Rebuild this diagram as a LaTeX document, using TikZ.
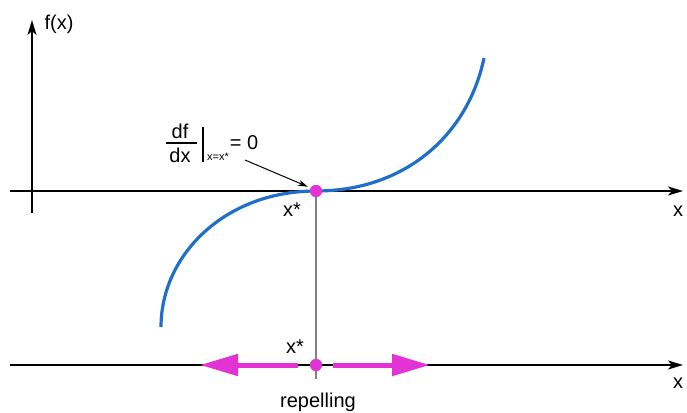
\documentclass[tikz,border=0pt]{standalone}
\usepackage{fontspec}
\setmainfont{Liberation Sans}
\usetikzlibrary{arrows.meta}
\definecolor{mag}{HTML}{E433D4}
\definecolor{curveblue}{HTML}{1E6FCC}
\begin{document}
\begin{tikzpicture}[x=1pt,y=-1pt,
  axis/.style={line width=2pt,-{Stealth[length=15pt,width=9pt,inset=4pt]}},
  lbl/.style={inner sep=0pt,font=\fontsize{20}{24}\selectfont},
  small/.style={inner sep=0pt,font=\fontsize{11}{13}\selectfont},
  repel/.style={line width=5pt,mag,-{Triangle[length=38pt,width=21pt]}},
  dot/.style={circle,fill=mag,inner sep=0pt,minimum size=12pt}]
\useasboundingbox (0,0) rectangle (687,412);
% coordinates
\coordinate (yb) at (32,213);
\coordinate (yt) at (32,20);
\coordinate (ul) at (10,191);
\coordinate (ur) at (683,191);
\coordinate (ll) at (10,365);
\coordinate (lr) at (683,365);
\coordinate (vb) at (316,379);
% axes
\draw[axis] (yb) -- (yt);
\draw[axis] (ul) -- (ur);
\draw[axis] (ll) -- (lr);
% labels
\node[lbl] (fx) at (59,24) {f(x)};
\node[lbl] (xu) at (678,211) {x};
\node[lbl] (xl) at (678,383) {x};
% curve
\draw[curveblue,line width=3.2pt] (161,327) .. controls (161,255) and (225,191) .. (316,191) .. controls (405,191) and (468,135) .. (484,58);
% points
\node[dot] (pu) at (316,191) {};
\node[dot] (pl) at (316,365) {};
\draw[gray,line width=1.5pt] (pu.center) -- (vb);
\node[dot] at (316,191) {};
\node[dot] at (316,365) {};
\node[lbl] (xsu) at (292,210) {x*};
\node[lbl] (xsl) at (295,347) {x*};
% repelling arrows
\coordinate (la) at (298,365);
\coordinate (lt) at (200,365);
\coordinate (ra) at (333,365);
\coordinate (rt) at (430,365);
\draw[repel] (la) -- (lt);
\draw[repel] (ra) -- (rt);
\node[lbl] (rep) at (318,402) {repelling};
% derivative annotation
\node[lbl] (num) at (180,131) {df};
\node[lbl] (den) at (180,155) {dx};
\coordinate (fb1) at (166,143);
\coordinate (fb2) at (197,143);
\draw[line width=1.2pt] (fb1) -- (fb2);
\coordinate (vb1) at (203,127);
\coordinate (vb2) at (203,162);
\draw[line width=1.2pt] (vb1) -- (vb2);
\node[small] (sub) at (218,157) {x=x*};
\node[lbl] (eq) at (244,143) {= 0};
\coordinate (as) at (245,160);
\draw[line width=1pt,-{Stealth[length=10pt,width=6pt]},shorten >=3pt] (as) -- (pu.150);
\end{tikzpicture}
\end{document}
